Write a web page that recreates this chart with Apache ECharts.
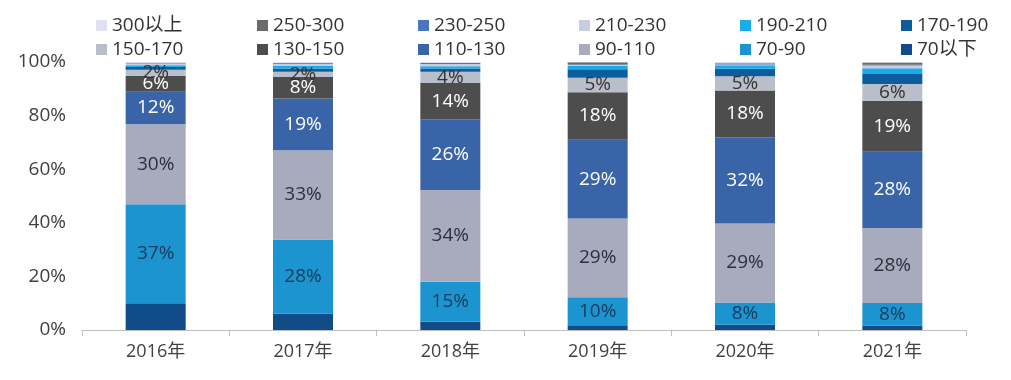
<!DOCTYPE html>
<html>
<head>
<meta charset="utf-8">
<script src="https://cdn.jsdelivr.net/npm/echarts@6/dist/echarts.min.js"></script>
<style>html,body{margin:0;padding:0;background:#fff;}#chart{width:1011px;height:380px;}</style>
</head>
<body>
<div id="chart"></div>
<script>
const categories = ['2016年', '2017年', '2018年', '2019年', '2020年', '2021年'];
const yTicks = [0, 20, 40, 60, 80, 100];
const seriesNames = ['70以下', '70-90', '90-110', '110-130', '130-150', '150-170', '170-190', '190-210', '210-230', '230-250', '250-300', '300以上'];
const v70below = [10, 6.2, 3.1, 1.8, 2, 1.7];
const v70_90 = [36.9, 27.6, 14.9, 10.4, 8.3, 8.4];
const v90_110 = [29.9, 33.3, 34.2, 29.4, 29.4, 28];
const v110_130 = [12.1, 19.3, 26.4, 29.4, 32.1, 28.4];
const v130_150 = [6, 8, 13.6, 17.7, 17.6, 19];
const v150_170 = [2.2, 2, 4.2, 5.4, 5.3, 6.3];
const v170_190 = [1.0, 1.2, 1.2, 3.2, 2.8, 3.7];
const v190_210 = [0.7, 0.9, 0.8, 1.2, 1.3, 2.2];
const v210_230 = [0.6, 0.8, 0.9, 0.4, 0.3, 1.0];
const v230_250 = [0.2, 0.2, 0.3, 0.2, 0.2, 0.3];
const v250_300 = [0.1, 0.1, 0.1, 0.8, 0.2, 0.8];
const v300plus = [0.3, 0.4, 0.3, 0.1, 0.5, 0.2];

const seriesValues = [v70below, v70_90, v90_110, v110_130, v130_150, v150_170, v170_190, v190_210, v210_230, v230_250, v250_300, v300plus];
const colors = ['#0f4c88', '#1c94cf', '#a7abbd', '#3a64a8', '#4d4d4d', '#b9bfca', '#0c5c9e', '#1aabe8', '#c7cde0', '#4677bf', '#6b6b6b', '#dde1f0'];
const labelColors = [null, '#1b3a5c', '#2b2f3a', '#ffffff', '#ffffff', '#333333', null, null, null, null, null, null];

const FONT = '"Open Sans", "Noto Sans CJK SC", sans-serif';

const series = seriesNames.map((name, i) => ({
  name: name,
  type: 'bar',
  stack: 'total',
  barWidth: 60,
  data: seriesValues[i],
  itemStyle: { color: colors[i] },
  label: {
    show: labelColors[i] !== null,
    position: 'inside',
    color: labelColors[i] || '#333',
    fontSize: 19,
    fontFamily: FONT,
    formatter: p => Math.round(p.value) + '%'
  },
  emphasis: { disabled: true }
}));

const legendRows = [
  ['300以上', '250-300', '230-250', '210-230', '190-210', '170-190'],
  ['150-170', '130-150', '110-130', '90-110', '70-90', '70以下']
];
const legends = [];
legendRows.forEach((row, r) => {
  row.forEach((name, c) => {
    legends.push({
      left: 91 + c * 161,
      top: 11 + r * 24,
      itemWidth: 11,
      itemHeight: 11,
      itemGap: 6,
      icon: 'rect',
      selectedMode: false,
      data: [name],
      textStyle: { color: '#333', fontSize: 19, fontFamily: FONT }
    });
  });
});

const chart = echarts.init(document.getElementById('chart'));
chart.setOption({
  animation: false,
  legend: legends,
  grid: { left: 82, right: 45, top: 62, bottom: 50 },
  xAxis: {
    type: 'category',
    data: categories,
    axisLine: { lineStyle: { color: '#bfbfbf', width: 1 } },
    axisTick: { show: true, length: 6, lineStyle: { color: '#bfbfbf' } },
    axisLabel: { color: '#404040', fontSize: 18, fontFamily: FONT, margin: 13 }
  },
  yAxis: {
    type: 'value',
    min: yTicks[0],
    max: yTicks[yTicks.length - 1],
    interval: yTicks[1] - yTicks[0],
    axisLine: { show: false },
    axisTick: { show: false },
    splitLine: { show: false },
    axisLabel: { color: '#404040', fontSize: 19, fontFamily: FONT, margin: 16, formatter: '{value}%' }
  },
  series: series
});
</script>
</body>
</html>
